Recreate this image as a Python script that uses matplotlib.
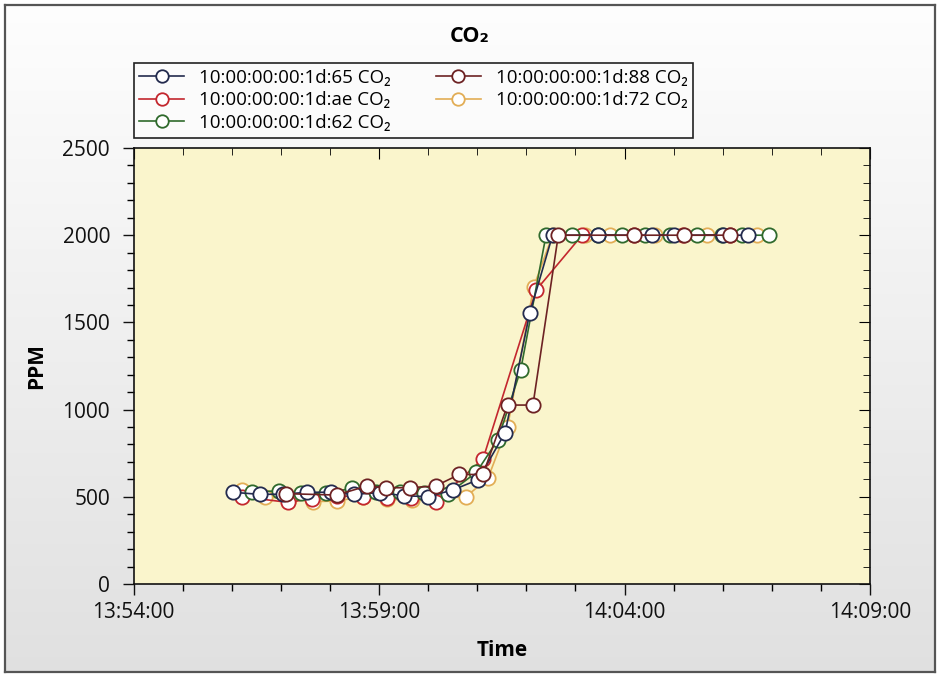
import datetime
import numpy as np
import matplotlib
matplotlib.use("Agg")
import matplotlib.pyplot as plt
import matplotlib.dates as mdates

plt.rcParams['font.family'] = ['Open Sans', 'DejaVu Sans']

# ---------------- data ----------------
series_names = ["10:00:00:00:1d:65 CO\u2082", "10:00:00:00:1d:ae CO\u2082",
                "10:00:00:00:1d:62 CO\u2082", "10:00:00:00:1d:88 CO\u2082",
                "10:00:00:00:1d:72 CO\u2082"]

t65 = ["13:56:01", "13:56:34", "13:57:03", "13:57:32", "13:58:01", "13:58:29", "13:59:01",
       "13:59:30", "14:00:00", "14:00:30", "14:01:01", "14:01:34", "14:02:04", "14:02:32",
       "14:03:27", "14:04:33", "14:05:00", "14:06:00", "14:06:31"]
v65 = [526, 514, 515, 526, 526, 514, 524, 506, 501, 539, 598, 868, 1552, 2000,
       2000, 2000, 2000, 2000, 2000]

tae = ["13:56:12", "13:57:09", "13:57:38", "13:58:08", "13:58:40", "13:59:10", "13:59:39",
       "14:00:09", "14:01:07", "14:02:12", "14:03:08", "14:04:11", "14:05:12", "14:06:09"]
vae = [500, 468, 490, 505, 500, 495, 495, 472, 717, 1686, 2000, 2000, 2000, 2000]

t62 = ["13:56:24", "13:56:58", "13:57:25", "13:57:55", "13:58:27", "13:58:56", "13:59:25",
       "13:59:55", "14:00:24", "14:00:59", "14:01:25", "14:01:53", "14:02:24", "14:02:56",
       "14:03:27", "14:03:57", "14:04:25", "14:04:55", "14:05:28", "14:05:59", "14:06:23",
       "14:06:56"]
v62 = [526, 535, 520, 522, 548, 525, 529, 520, 516, 641, 826, 1227, 2000, 2000,
       2000, 2000, 2000, 2000, 2000, 2000, 2000, 2000]

t88 = ["13:57:06", "13:58:08", "13:58:45", "13:59:08", "13:59:38", "14:00:09", "14:00:38",
       "14:01:07", "14:01:37", "14:02:08", "14:02:39", "14:04:11", "14:05:13", "14:06:09"]
v88 = [518, 510, 562, 552, 552, 562, 628, 628, 1026, 1026, 2000, 2000, 2000, 2000]

t72 = ["13:56:12", "13:56:40", "13:57:10", "13:57:39", "13:58:08", "13:58:40", "13:59:10",
       "13:59:40", "14:00:46", "14:01:13", "14:01:37", "14:02:09", "14:02:32", "14:03:12",
       "14:03:42", "14:04:37", "14:05:41", "14:06:42"]
v72 = [540, 500, 490, 472, 476, 500, 486, 482, 500, 606, 902, 1705, 2000, 2000,
       2000, 2000, 2000, 2000]

y_ticks = [0, 500, 1000, 1500, 2000, 2500]
x_start, x_end = "13:54:00", "14:09:00"

colors = ["#232b4e", "#c3272e", "#2f6a2c", "#6d2223", "#e2ad55"]
zorders = [4, 2, 3, 5, 1]


def to_dt(s):
    return datetime.datetime.strptime("2020-01-01 " + s, "%Y-%m-%d %H:%M:%S")


times = [t65, tae, t62, t88, t72]
values = [v65, vae, v62, v88, v72]

# ---------------- figure ----------------
W, H = 940, 677
fig = plt.figure(figsize=(W / 100, H / 100), dpi=100)
fig.patch.set_facecolor("white")

# gradient panel with border
bg = fig.add_axes([5 / W, 5 / H, 930 / W, 667 / H], zorder=-5)
grad = np.linspace(0, 1, 256).reshape(-1, 1)
top_c = np.array([0.995, 0.995, 0.995])
bot_c = np.array([0.88, 0.88, 0.88])
img = top_c[None, None, :] * (1 - grad[:, :, None]) + bot_c[None, None, :] * grad[:, :, None]
bg.imshow(img, aspect="auto", extent=[0, 1, 0, 1], origin="upper")
bg.set_xticks([])
bg.set_yticks([])
for sp in bg.spines.values():
    sp.set_color("#555555")
    sp.set_linewidth(1.6)

L, R, T, B = 133.7, 870, 148, 584
ax = fig.add_axes([L / W, 1 - B / H, (R - L) / W, (B - T) / H], zorder=1)
ax.set_facecolor("#faf5cc")

for name, ts, vs, c, z in zip(series_names, times, values, colors, zorders):
    ax.plot([to_dt(s) for s in ts], vs, color=c, lw=1.2, marker="o", ms=10.3,
            mfc="white", mec=c, mew=1.3, zorder=z, label=name)

ax.set_xlim(to_dt(x_start), to_dt(x_end))
ax.set_ylim(0, 2500)
ax.set_yticks(y_ticks)
ax.yaxis.set_minor_locator(matplotlib.ticker.MultipleLocator(100))
ax.xaxis.set_major_locator(mdates.MinuteLocator(byminute=range(4, 60, 5)))
ax.xaxis.set_minor_locator(mdates.MinuteLocator())
ax.xaxis.set_major_formatter(mdates.DateFormatter("%H:%M:%S"))

ax.tick_params(axis="both", which="major", direction="out", length=8, width=1,
               labelsize=15, colors="#111111", pad=5)
ax.tick_params(axis="both", which="minor", direction="out", length=5, width=1)
ax.tick_params(axis="y", which="major", pad=9)
for sp in ax.spines.values():
    sp.set_color("#111111")
    sp.set_linewidth(1.2)

# inward ticks on top and right
top = ax.secondary_xaxis("top")
top.xaxis.set_major_locator(mdates.MinuteLocator(byminute=range(4, 60, 5)))
top.xaxis.set_minor_locator(mdates.MinuteLocator())
top.tick_params(which="major", direction="in", length=8, labeltop=False)
top.tick_params(which="minor", direction="in", length=5)
top.spines["top"].set_visible(False)
rgt = ax.secondary_yaxis("right")
rgt.set_yticks(y_ticks)
rgt.yaxis.set_minor_locator(matplotlib.ticker.MultipleLocator(100))
rgt.tick_params(which="major", direction="in", length=8, labelright=False)
rgt.tick_params(which="minor", direction="in", length=5)
rgt.spines["right"].set_visible(False)

ax.set_xlabel("Time", fontsize=15, fontweight="bold")
ax.set_ylabel("PPM", fontsize=15, fontweight="bold")
ax.xaxis.set_label_coords(0.5, -(640 - B) / (B - T))
ax.yaxis.set_label_coords((47 - L) / (R - L), 0.5)

fig.text(0.5, 1 - 37 / H, "CO\u2082", ha="center", va="center", fontsize=15.5,
         fontweight="bold")

handles, labels = ax.get_legend_handles_labels()
leg = fig.legend(handles, labels,
                 loc="upper left", bbox_to_anchor=(L / W, 1 - 63 / H),
                 ncol=2, fontsize=13.5, frameon=True, fancybox=False,
                 edgecolor="#222222", facecolor="#fbfbfb", framealpha=1,
                 borderaxespad=0, borderpad=0.3, labelspacing=0.25,
                 handlelength=2.4, handletextpad=0.8, columnspacing=2.4)
leg.get_frame().set_linewidth(1.2)
for h in leg.legend_handles:
    h.set_markersize(9)

fig.savefig("out.png", dpi=100)
